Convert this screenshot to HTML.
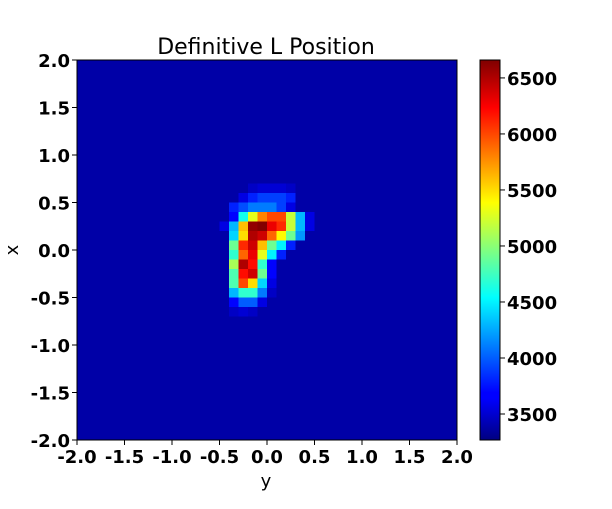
<!DOCTYPE html>
<html><head><meta charset="utf-8"><style>
body{margin:0;background:#fff;}
svg text{font-family:"DejaVu Sans","Liberation Sans",sans-serif;}
</style></head><body>
<svg id="chart" width="612" height="504" xmlns="http://www.w3.org/2000/svg">
<rect width="612" height="504" fill="#fff"/>
<text x="266" y="54" font-size="22" text-anchor="middle">Definitive L Position</text>
<g id="cells"></g>
<rect x="77" y="60" width="380" height="380" fill="none" stroke="#000" stroke-width="1"/>
<g id="xticks"></g>
<g id="yticks"></g>
<text x="266" y="487" font-size="18" text-anchor="middle">y</text>
<text x="18" y="250" font-size="18" text-anchor="middle" transform="rotate(-90 18 250)">x</text>
<defs><linearGradient id="jet" x1="0" y1="1" x2="0" y2="0">
<stop offset="0" stop-color="#000080"/><stop offset="0.11" stop-color="#0000ff"/><stop offset="0.125" stop-color="#0000ff"/><stop offset="0.375" stop-color="#00ffff"/><stop offset="0.5" stop-color="#80ff80"/><stop offset="0.625" stop-color="#ffff00"/><stop offset="0.875" stop-color="#ff0000"/><stop offset="1" stop-color="#800000"/></linearGradient></defs>
<rect x="480" y="60" width="20" height="380" fill="url(#jet)" stroke="#000" stroke-width="1"/>
<g id="cticks"></g>
</svg>
<script>
const xTicks=[-2.0,-1.5,-1.0,-0.5,0.0,0.5,1.0,1.5,2.0];
const yTicks=[2.0,1.5,1.0,0.5,0.0,-0.5,-1.0,-1.5,-2.0];
const cbTicks=[3500,4000,4500,5000,5500,6000,6500];
const vmin=3268, vmax=6660;
const nGrid=40;
const baseValue=3400;
// hotspot cells: [row(top=0), col(left=0), value]
const hotRows=[13,13,13,13,13, 14,14,14,14,14,14, 15,15,15,15,15,15,15, 16,16,16,16,16,16,16,16,16, 17,17,17,17,17,17,17,17,17,17, 18,18,18,18,18,18,18,18, 19,19,19,19,19,19,19, 20,20,20,20,20,20, 21,21,21,21,21, 22,22,22,22,22, 23,23,23,23,23, 24,24,24,24,24, 25,25,25,25, 26,26,26];
const hotCols=[18,19,20,21,22, 17,18,19,20,21,22, 16,17,18,19,20,21,22, 16,17,18,19,20,21,22,23,24, 15,16,17,18,19,20,21,22,23,24, 16,17,18,19,20,21,22,23, 16,17,18,19,20,21,22, 16,17,18,19,20,21, 16,17,18,19,20, 16,17,18,19,20, 16,17,18,19,20, 16,17,18,19,20, 16,17,18,19, 16,17,18];
const hotVals=[3500,3550,3550,3550,3500, 3600,3800,3900,3900,3900,3800, 3800,3950,4100,4100,4100,3900,3600, 3700,4600,5300,5800,6000,6000,5200,4300,3600, 3600,4300,5600,6600,6650,6300,6100,5200,4300,3600, 4400,5500,6500,6400,5900,5400,4900,4200, 4900,6100,6400,5600,4900,4500,3800, 4700,5900,6300,5300,4500,3800, 5100,6500,6200,4700,3700, 4800,6200,6400,4900,3700, 4800,6000,5500,4400,3600, 4300,4700,4700,4100,3500, 3700,4000,4000,3600, 3500,3550,3500];

const X0=77,Y0=60,W=380,H=380;
const xs=v=>X0+(v+2)/4*W;
const ys=v=>Y0+(2-v)/4*H;
const cs=v=>440-(v-vmin)/(vmax-vmin)*380;
function jet(v){let t=Math.max(0,Math.min(1,(v-vmin)/(vmax-vmin)));
 const c=x=>Math.round(255*Math.max(0,Math.min(1,x)));
 return `rgb(${c(1.5-Math.abs(4*t-3))},${c(1.5-Math.abs(4*t-2))},${c(1.5-Math.abs(4*t-1))})`;}
const NS="http://www.w3.org/2000/svg";
function mk(tag,attrs,parent){const e=document.createElementNS(NS,tag);for(const k in attrs)e.setAttribute(k,attrs[k]);parent.appendChild(e);return e;}
const grid=[];for(let r=0;r<nGrid;r++){grid.push(new Array(nGrid).fill(baseValue));}
hotRows.forEach((r,i)=>{grid[r][hotCols[i]]=hotVals[i];});
const cg=document.getElementById('cells');const cw=W/nGrid;
for(let r=0;r<nGrid;r++)for(let c=0;c<nGrid;c++){
 const e=mk('rect',{x:X0+c*cw,y:Y0+r*cw,width:cw+0.5,height:cw+0.5,fill:jet(grid[r][c])},cg);
 
 
}
const xg=document.getElementById('xticks');
xTicks.forEach(v=>{const x=xs(v);
 const l=mk('line',{x1:x,y1:440,x2:x,y2:445,stroke:'#000'},xg);
 
 
 const t=mk('text',{x:x,y:463,'font-size':18,'font-weight':'bold','text-anchor':'middle'},xg);
 t.textContent=v.toFixed(1);
 
 });
const yg=document.getElementById('yticks');
yTicks.forEach(v=>{const y=ys(v);
 const l=mk('line',{x1:72,y1:y,x2:77,y2:y,stroke:'#000'},yg);
 
 
 const t=mk('text',{x:70,y:y+7,'font-size':18,'font-weight':'bold','text-anchor':'end'},yg);
 t.textContent=v.toFixed(1);
 
 });
const cgx=document.getElementById('cticks');
cbTicks.forEach(v=>{const y=cs(v);
 const l=mk('line',{x1:500,y1:y,x2:505,y2:y,stroke:'#000'},cgx);
 
 
 const t=mk('text',{x:507,y:y+7,'font-size':18,'font-weight':'bold'},cgx);
 t.textContent=v;
 
 });
</script>
</body></html>
